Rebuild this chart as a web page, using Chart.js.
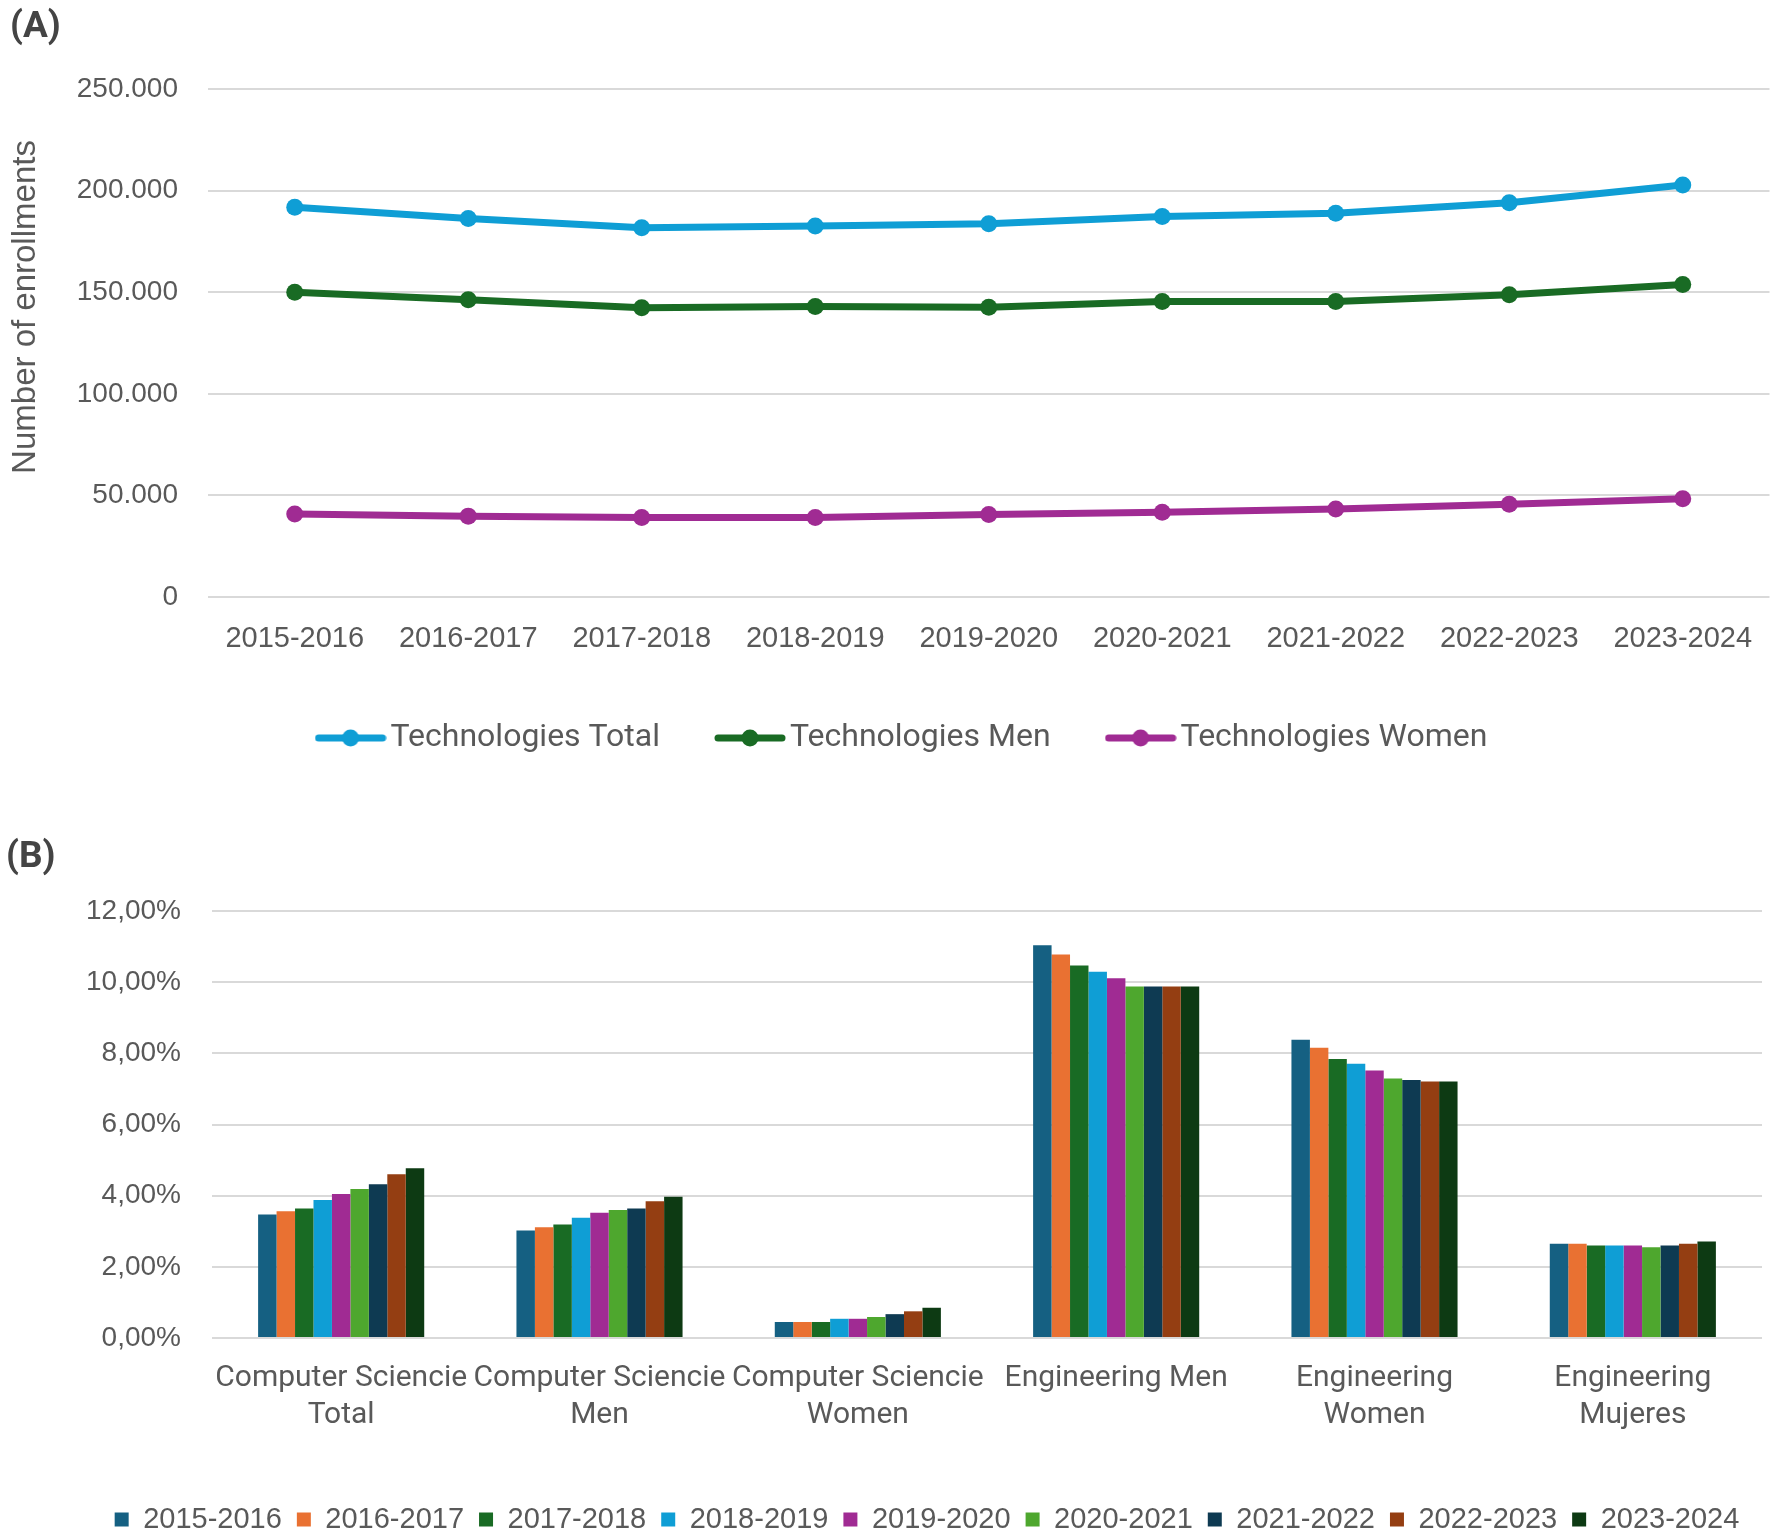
<!DOCTYPE html>
<html><head><meta charset="utf-8">
<script src="https://cdn.jsdelivr.net/npm/chart.js@4.4.1/dist/chart.umd.min.js"></script>
<style>
html,body{margin:0;padding:0;background:#fff;overflow:hidden;width:1778px;height:1534px;}
#wrapA{position:absolute;left:0;top:0;width:1778px;height:764px;}
#wrapB{position:absolute;left:0;top:830px;width:1778px;height:714px;}
.panel{position:absolute;font-family:Roboto,'Liberation Sans',Arial,sans-serif;font-weight:bold;font-size:37px;color:#444;line-height:1;}
</style></head><body>
<div id="wrapA"><canvas id="cA"></canvas></div>
<div id="wrapB"><canvas id="cB"></canvas></div>
<div class="panel" style="left:10px;top:6px">(A)</div>
<div class="panel" style="left:6px;top:836px">(B)</div>
<script>
// ---------- Chart A data ----------
const yearsA = ['2015-2016','2016-2017','2017-2018','2018-2019','2019-2020','2020-2021','2021-2022','2022-2023','2023-2024'];
const techTotal = [191800,186300,181700,182600,183700,187200,188900,194000,202800];
const techMen   = [150000,146300,142400,143000,142600,145400,145400,148700,153800];
const techWomen = [40900,39800,39100,39100,40600,41700,43300,45700,48300];
const yTickLabelsA = ['0','50.000','100.000','150.000','200.000','250.000'];
const seriesNamesA = ['Technologies Total','Technologies Men','Technologies Women'];

// ---------- Chart B data ----------
const groupsB = [['Computer Sciencie','Total'],['Computer Sciencie','Men'],['Computer Sciencie','Women'],['Engineering Men'],['Engineering','Women'],['Engineering','Mujeres']];
const yearNamesB = ['2015-2016','2016-2017','2017-2018','2018-2019','2019-2020','2020-2021','2021-2022','2022-2023','2023-2024'];
const y2015 = [3.47,3.02,0.45,11.04,8.38,2.65];
const y2016 = [3.56,3.11,0.45,10.78,8.16,2.65];
const y2017 = [3.64,3.19,0.45,10.47,7.84,2.60];
const y2018 = [3.88,3.38,0.54,10.29,7.71,2.60];
const y2019 = [4.05,3.52,0.54,10.11,7.52,2.60];
const y2020 = [4.19,3.60,0.59,9.88,7.29,2.55];
const y2021 = [4.32,3.64,0.67,9.88,7.25,2.60];
const y2022 = [4.60,3.84,0.75,9.88,7.21,2.65];
const y2023 = [4.77,3.97,0.85,9.88,7.21,2.71];
const yTickLabelsB = ['0,00%','2,00%','4,00%','6,00%','8,00%','10,00%','12,00%'];

// ---------- styles ----------
const colorsA = ['#0F9ED5','#196B24','#A02B93'];
const colorsB = ['#156082','#E97132','#196B24','#0F9ED5','#A02B93','#4EA72E','#0E3A52','#943E12','#0D3A13'];
const textCol = '#595959';
const gridCol = '#d9d9d9';
const arial = "'Liberation Sans', Arial, sans-serif";
const aptos = "Roboto, 'Liberation Sans', sans-serif";

function lineMarker(color){
  const c = document.createElement('canvas');
  c.width = 72; c.height = 22;
  const g = c.getContext('2d');
  g.strokeStyle = color; g.lineWidth = 7; g.lineCap = 'round';
  g.beginPath(); g.moveTo(4,11); g.lineTo(68,11); g.stroke();
  g.fillStyle = color; g.beginPath(); g.arc(36,11,8.5,0,Math.PI*2); g.fill();
  return c;
}
const markersA = colorsA.map(lineMarker);

// shift the y-axis title of chart A upward, as in the reference
const titleShift = {
  id: 'titleShift',
  afterLayout(chart) {
    const sc = chart.scales.y;
    if (sc && !sc._shiftPatched) {
      sc._shiftPatched = true;
      sc.drawTitle = function() {
        const ctx = this.ctx;
        ctx.save(); ctx.translate(0, -36);
        Chart.Scale.prototype.drawTitle.call(this);
        ctx.restore();
      };
    }
  }
};
// nudge legend B slightly right, as in the reference
const legendShift = {
  id: 'legendShift',
  afterLayout(chart) {
    if (chart.legend) { chart.legend.left += 7; chart.legend.right += 7; }
  }
};

const seriesA = [techTotal, techMen, techWomen];
new Chart(document.getElementById('cA'), {
  type: 'line',
  data: {
    labels: yearsA,
    datasets: seriesA.map((d,i) => ({
      label: seriesNamesA[i], data: d,
      borderColor: colorsA[i], backgroundColor: colorsA[i],
      borderWidth: 7, pointRadius: 8.5, pointBorderWidth: 0,
      pointBackgroundColor: colorsA[i], tension: 0, fill: false
    }))
  },
  plugins: [titleShift],
  options: {
    responsive: true, maintainAspectRatio: false, animation: false,
    layout: { padding: { left: 43, right: 7, top: 89, bottom: 0 } },
    plugins: {
      tooltip: { enabled: false },
      legend: {
        position: 'bottom',
        labels: {
          usePointStyle: true, pointStyleWidth: 48,
          padding: 66, color: textCol,
          font: { family: aptos, size: 32 },
          generateLabels: (chart) => {
            const items = Chart.defaults.plugins.legend.labels.generateLabels(chart);
            items.forEach((it, i) => { it.pointStyle = markersA[i]; });
            return items;
          }
        }
      }
    },
    scales: {
      x: {
        offset: true,
        grid: { display: false, drawTicks: false },
        border: { display: false },
        ticks: { color: textCol, font: { family: arial, size: 29 }, padding: 25, maxRotation: 0, autoSkip: false },
        afterFit: (s) => { s.height = 59; }
      },
      y: {
        min: 0, max: 250000,
        grid: { color: gridCol, lineWidth: 2, drawTicks: false },
        border: { display: false },
        ticks: { stepSize: 50000, color: textCol, font: { family: arial, size: 28 }, padding: 30,
                 callback: (v) => yTickLabelsA[Math.round(v/50000)] },
        title: { display: true, text: 'Number of enrollments', color: textCol,
                 font: { family: arial, size: 33 }, padding: { top: -37, bottom: 0 } },
        afterFit: (s) => { s.width = 165; }
      }
    }
  }
});

const seriesB = [y2015,y2016,y2017,y2018,y2019,y2020,y2021,y2022,y2023];
new Chart(document.getElementById('cB'), {
  type: 'bar',
  data: {
    labels: groupsB,
    datasets: seriesB.map((d,i) => ({
      label: yearNamesB[i], data: d,
      backgroundColor: colorsB[i], borderWidth: 0,
      categoryPercentage: 0.643, barPercentage: 1.0
    }))
  },
  plugins: [legendShift],
  options: {
    responsive: true, maintainAspectRatio: false, animation: false,
    layout: { padding: { left: 78, right: 16, top: 81, bottom: 0 } },
    plugins: {
      tooltip: { enabled: false },
      legend: {
        position: 'bottom',
        labels: { boxWidth: 14, boxHeight: 14, padding: 15, color: textCol,
                  font: { family: arial, size: 29 } }
      }
    },
    scales: {
      x: {
        grid: { display: false, drawTicks: false },
        border: { display: false },
        ticks: { color: textCol, font: { family: aptos, size: 30, lineHeight: 1.233 }, padding: 22, maxRotation: 0, autoSkip: false },
        afterFit: (s) => { s.height = 152; }
      },
      y: {
        min: 0, max: 12,
        grid: { color: gridCol, lineWidth: 2, drawTicks: false },
        border: { display: false },
        ticks: { stepSize: 2, color: textCol, font: { family: arial, size: 28 }, padding: 31,
                 callback: (v) => yTickLabelsB[Math.round(v/2)] },
        afterFit: (s) => { s.width = 134; }
      }
    }
  }
});
</script>
</body></html>
